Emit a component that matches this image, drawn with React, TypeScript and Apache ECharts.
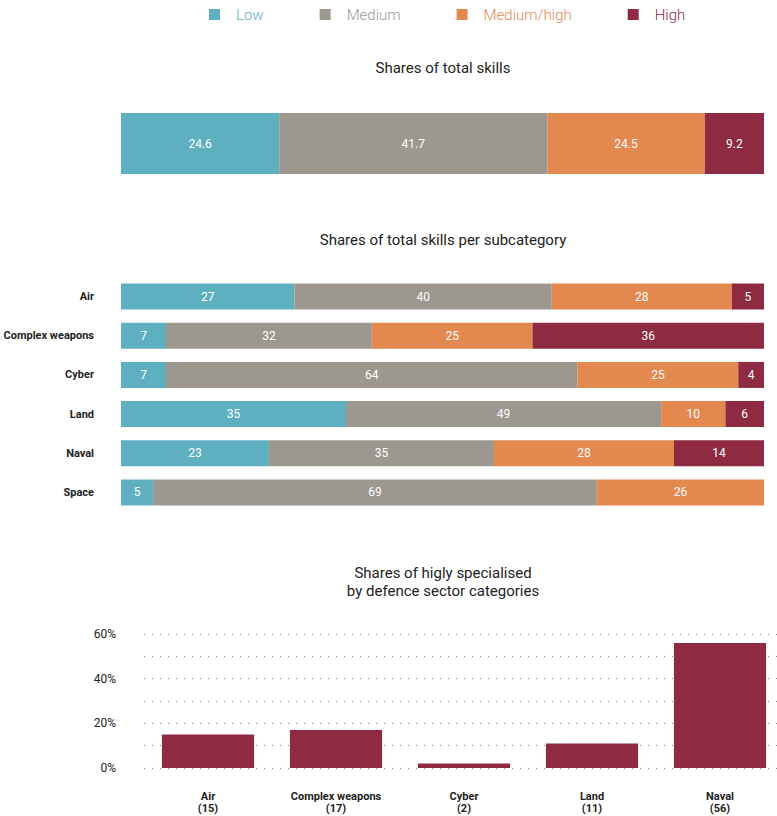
import React, { useEffect, useRef } from "react";
import * as echarts from "echarts";

const legendNames = ["Low", "Medium", "Medium/high", "High"];
const colors = ["#5eb0c0", "#9c978f", "#e3884f", "#8e2a41"];
const totalShares = [24.6, 41.7, 24.5, 9.2];
const subcategories = ["Air", "Complex weapons", "Cyber", "Land", "Naval", "Space"];
const lowShares = [27, 7, 7, 35, 23, 5];
const mediumShares = [40, 32, 64, 49, 35, 69];
const mediumHighShares = [28, 25, 25, 10, 28, 26];
const highShares = [5, 36, 4, 6, 14, 0];
const sectorCategories = ["Air", "Complex weapons", "Cyber", "Land", "Naval"];
const sectorCounts = [15, 17, 2, 11, 56];
const specialisedShares = [15, 17, 2, 11, 56];

const FONT = "Roboto, 'Liberation Sans', sans-serif";

export default function App() {
  const ref = useRef<HTMLDivElement>(null);
  useEffect(() => {
    if (!ref.current) return;
    const chart = echarts.init(ref.current, null, { renderer: "svg" });
    const subSeries = [lowShares, mediumShares, mediumHighShares, highShares];
    const labelStyle = {
      show: true,
      position: "inside",
      color: "#ffffff",
      fontSize: 12,
      fontFamily: FONT,
      formatter: (p: any) => (p.value ? String(p.value) : ""),
    };
    const titleStyle = (text: string) => ({
      text,
      textAlign: "center",
      textVerticalAlign: "middle",
      fontSize: 15,
      fontFamily: FONT,
      fill: "#222",
    });
    const option: any = {
      animation: false,
      backgroundColor: "#ffffff",
      textStyle: { fontFamily: FONT },
      legend: {
        left: 204,
        top: 2,
        icon: "rect",
        itemWidth: 11,
        itemHeight: 11,
        itemGap: 56,
        data: legendNames.map((n, i) => ({
          name: n,
          textStyle: { color: colors[i], fontSize: 15, fontWeight: 300, fontFamily: FONT, padding: [0, 0, 0, 11] },
        })),
      },
      graphic: [
        { type: "text", x: 443, y: 68, style: titleStyle("Shares of total skills") },
        { type: "text", x: 443, y: 240, style: titleStyle("Shares of total skills per subcategory") },
        { type: "text", x: 443, y: 573, style: titleStyle("Shares of higly specialised") },
        { type: "text", x: 443, y: 591, style: titleStyle("by defence sector categories") },
      ],
      grid: [
        { left: 121, width: 643, top: 113, height: 61, outerBoundsMode: "none", containLabel: false },
        { left: 121, width: 643, top: 277, height: 235, outerBoundsMode: "none", containLabel: false },
        { left: 144, width: 640, top: 634, height: 134, outerBoundsMode: "none", containLabel: false },
      ],
      xAxis: [
        { gridIndex: 0, type: "value", min: 0, max: 100, show: false },
        { gridIndex: 1, type: "value", min: 0, max: 100, show: false },
        {
          gridIndex: 2,
          type: "category",
          data: sectorCategories,
          axisLine: { show: false },
          axisTick: { show: false },
          axisLabel: {
            interval: 0,
            margin: 22,
            fontSize: 11,
            lineHeight: 12,
            fontWeight: "bold",
            color: "#222",
            fontFamily: FONT,
            formatter: (v: string) => `${v}\n(${sectorCounts[sectorCategories.indexOf(v)]})`,
          },
        },
      ],
      yAxis: [
        { gridIndex: 0, type: "category", data: ["Total"], show: false },
        {
          gridIndex: 1,
          type: "category",
          data: subcategories,
          inverse: true,
          axisLine: { show: false },
          axisTick: { show: false },
          axisLabel: { interval: 0, margin: 27, fontSize: 11, fontWeight: "bold", color: "#222", fontFamily: FONT },
        },
        {
          gridIndex: 2,
          type: "value",
          min: 0,
          max: 60,
          interval: 10,
          axisLine: { show: false },
          axisTick: { show: false },
          splitLine: { show: true, lineStyle: { color: "#888", width: 1, type: [1, 7] } },
          axisLabel: {
            margin: 28,
            fontSize: 12,
            color: "#222",
            fontFamily: FONT,
            formatter: (v: number) => (v % 20 === 0 ? `${v}%` : ""),
          },
        },
      ],
      series: [
        ...legendNames.map((n, i) => ({
          name: n,
          type: "bar",
          stack: "total",
          xAxisIndex: 0,
          yAxisIndex: 0,
          barWidth: "100%",
          itemStyle: { color: colors[i] },
          label: labelStyle,
          data: [totalShares[i]],
        })),
        ...legendNames.map((n, i) => ({
          name: n,
          type: "bar",
          stack: "sub",
          xAxisIndex: 1,
          yAxisIndex: 1,
          barWidth: 26,
          itemStyle: { color: colors[i] },
          label: labelStyle,
          data: subSeries[i],
        })),
        {
          name: "Highly specialised",
          type: "bar",
          xAxisIndex: 2,
          yAxisIndex: 2,
          barWidth: "72%",
          itemStyle: { color: colors[3] },
          data: specialisedShares,
        },
      ],
    };
    chart.setOption(option);
    return () => chart.dispose();
  }, []);
  return <div ref={ref} style={{ position: "fixed", left: 0, top: 0, width: 777, height: 816 }} />;
}
